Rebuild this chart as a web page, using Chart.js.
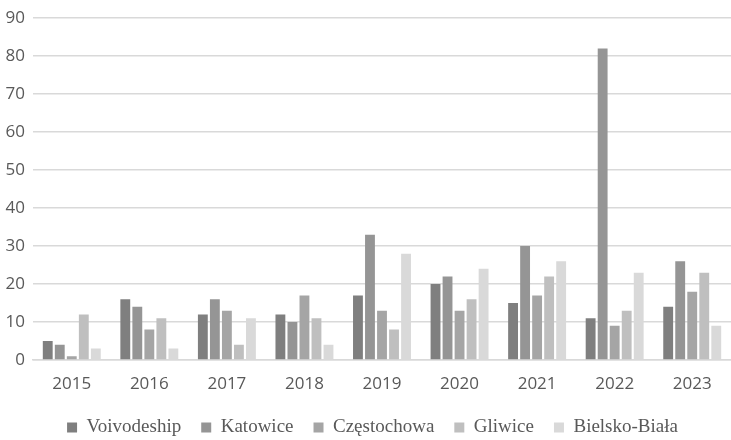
<!DOCTYPE html>
<html>
<head>
<meta charset="utf-8">
<script src="https://cdn.jsdelivr.net/npm/chart.js@4/dist/chart.umd.min.js"></script>
<style>
  html, body { margin: 0; padding: 0; background: #fff; overflow: hidden; }
  #wrap { width: 731px; height: 440px; position: relative; }
</style>
</head>
<body>
<div id="wrap"><canvas id="c" width="731" height="440"></canvas></div>
<script>
// Yearly counts per area
const years = ['2015', '2016', '2017', '2018', '2019', '2020', '2021', '2022', '2023'];
const seriesNames = ['Voivodeship', 'Katowice', 'Częstochowa', 'Gliwice', 'Bielsko-Biała'];
const voivodeship = [5, 16, 12, 12, 17, 20, 15, 11, 14];
const katowice    = [4, 14, 16, 10, 33, 22, 30, 82, 26];
const czestochowa = [1, 8, 13, 17, 13, 13, 17, 9, 18];
const gliwice     = [12, 11, 4, 11, 8, 16, 22, 13, 23];
const bielskoBiala = [3, 3, 11, 4, 28, 24, 26, 23, 9];
const yTicks = [0, 10, 20, 30, 40, 50, 60, 70, 80, 90];

const seriesValues = [voivodeship, katowice, czestochowa, gliwice, bielskoBiala];
const shades = ['#7f7f7f', '#959595', '#a5a5a5', '#bfbfbf', '#d9d9d9'];

const textColor = '#595959';
const gridColor = '#d9d9d9';

// Keep the legend row compact vertically while items stay widely spaced
const compactLegend = {
  id: 'compactLegend',
  beforeLayout(chart) {
    const lg = chart.legend;
    if (lg && !lg._compact) {
      const fit = lg.fit.bind(lg);
      lg.fit = function () { fit(); this.height = 42; };
      lg._compact = true;
    }
  },
  afterLayout(chart) {
    const lg = chart.legend;
    if (lg) { lg.left += 7; lg.right += 7; }
  }
};

new Chart(document.getElementById('c'), {
  type: 'bar',
  data: {
    labels: years,
    datasets: seriesNames.map((name, i) => ({
      label: name,
      data: seriesValues[i],
      backgroundColor: shades[i],
      borderWidth: 0,
      barPercentage: 0.82,
      categoryPercentage: 0.775
    }))
  },
  options: {
    responsive: false,
    animation: false,
    layout: { padding: { top: 14, right: 0, bottom: 0, left: 0 } },
    scales: {
      x: {
        afterFit: (scale) => { scale.height = 38; },
        grid: { display: false, drawTicks: false },
        border: { display: true, color: gridColor, width: 1.5 },
        ticks: {
          color: textColor,
          font: { family: '"Open Sans", sans-serif', size: 17 },
          padding: 14,
          maxRotation: 0
        }
      },
      y: {
        min: 0,
        max: 90,
        afterBuildTicks: (scale) => { scale.ticks = yTicks.map(v => ({ value: v })); },
        afterFit: (scale) => { scale.width = 33; },
        grid: { color: gridColor, lineWidth: 1.5, drawTicks: false },
        border: { display: false },
        ticks: {
          color: textColor,
          font: { family: '"Open Sans", sans-serif', size: 17 },
          padding: 8
        }
      }
    },
    plugins: {
      tooltip: { enabled: false },
      legend: {
        position: 'bottom',
        labels: {
          color: textColor,
          font: { family: '"Liberation Serif", serif', size: 19 },
          boxWidth: 10,
          boxHeight: 10,
          padding: 20
        }
      }
    }
  },
  plugins: [compactLegend]
});
</script>
</body>
</html>
